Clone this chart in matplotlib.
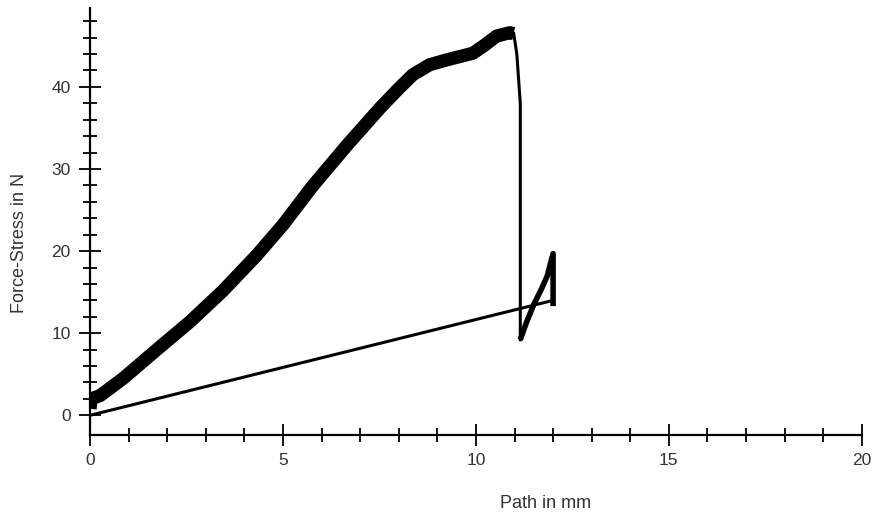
import numpy as np
import matplotlib
matplotlib.use('Agg')
from matplotlib import pyplot as plt
from matplotlib.ticker import MultipleLocator, FixedLocator

# loading branch (noisy band, centre line)
load_x = [0.0, 0.03, 0.26, 0.86, 1.73, 2.59, 3.45, 4.32, 5.0, 5.78, 6.66,
          7.51, 8.0, 8.37, 8.8, 9.25, 9.92, 10.2, 10.54, 10.88, 10.98]
load_y = [0.8, 2.0, 2.4, 4.5, 8.0, 11.4, 15.2, 19.5, 23.2, 28.0, 32.9,
          37.4, 39.8, 41.5, 42.7, 43.3, 44.1, 45.0, 46.2, 46.6, 46.5]

# fracture drop
drop_x = [10.98, 11.06, 11.12, 11.15, 11.15]
drop_y = [46.5, 44.0, 40.0, 38.0, 9.2]

# post-fracture rise
post_x = [11.15, 11.3, 11.5, 11.7, 11.85, 12.0, 12.0]
post_y = [9.2, 11.2, 13.5, 15.4, 17.0, 19.7, 13.3]

# unloading line back to origin
back_x = [12.0, 0.0]
back_y = [14.0, 0.0]

fig = plt.figure(figsize=(8.75, 5.15), dpi=100)
ax = fig.add_axes([0.1029, 0.1553, 0.882, 0.829])

ax.plot(load_x, load_y, color='black', linewidth=9.5, solid_capstyle='butt',
        solid_joinstyle='round')
ax.plot(drop_x, drop_y, color='black', linewidth=2.2)
ax.plot(post_x, post_y, color='black', linewidth=4, solid_capstyle='butt')
ax.plot(back_x, back_y, color='black', linewidth=2.2)

ax.set_xlim(0, 20)
ax.set_ylim(-2.4, 49.6)

ax.spines['top'].set_visible(False)
ax.spines['right'].set_visible(False)
ax.spines['left'].set_linewidth(1.6)
ax.spines['bottom'].set_linewidth(1.6)

ax.xaxis.set_major_locator(MultipleLocator(5))
ax.xaxis.set_minor_locator(MultipleLocator(1))
ax.yaxis.set_major_locator(FixedLocator([0, 10, 20, 30, 40]))
ax.yaxis.set_minor_locator(FixedLocator(list(range(2, 50, 2))))

ax.tick_params(which='major', direction='inout', length=16, width=1.3,
               labelsize=12.5, colors='black')
ax.tick_params(which='minor', direction='inout', length=10, width=1.3)
ax.tick_params(axis='x', which='major', pad=5)
ax.tick_params(axis='y', which='major', pad=6)

for lab in ax.get_xticklabels() + ax.get_yticklabels():
    lab.set_family('Liberation Sans')
    lab.set_color('#333333')

ax.set_xlabel('Path in mm', family='Liberation Sans', fontsize=13,
              color='#333333')
ax.xaxis.set_label_coords(0.59, -0.14)
ax.set_ylabel('Force-Stress in N', family='Liberation Sans', fontsize=13,
              color='#333333')
ax.yaxis.set_label_coords(-0.08, 0.45)

fig.savefig('out.png', dpi=100)
